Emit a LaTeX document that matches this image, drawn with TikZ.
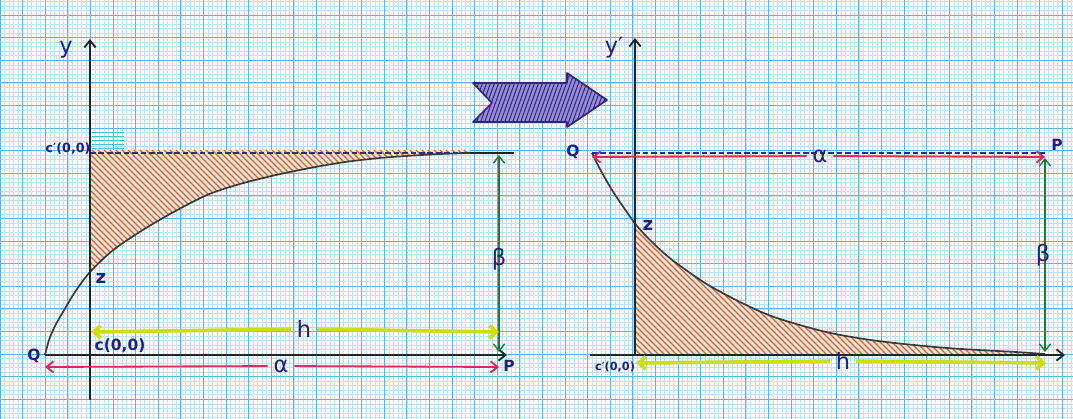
\documentclass[tikz,border=0pt]{standalone}
\usepackage{fontspec}
\setmainfont{DejaVu Sans}
\usetikzlibrary{arrows.meta}
\definecolor{paper}{RGB}{250,252,255}
\definecolor{gridminor}{RGB}{192,226,244}
\definecolor{gridmajor}{RGB}{100,178,224}
\definecolor{ink}{RGB}{32,32,125}
\definecolor{axisc}{RGB}{35,35,35}
\definecolor{redc}{RGB}{212,45,95}
\definecolor{yellc}{RGB}{205,222,25}
\definecolor{greenc}{RGB}{30,125,60}
\definecolor{hatchc}{RGB}{205,100,60}
\definecolor{hatchbg}{RGB}{246,228,214}
\definecolor{dashc}{RGB}{35,45,150}
\definecolor{purpfill}{RGB}{150,140,215}
\definecolor{purpink}{RGB}{50,35,125}
\definecolor{cyanc}{RGB}{60,200,215}
\begin{document}
\begin{tikzpicture}[x=0.025cm,y=-0.025cm,
  lbl/.style={text=ink,inner sep=1pt},
  fA/.style={font=\fontsize{16}{18}\selectfont},
  fB/.style={font=\bfseries\fontsize{13}{15}\selectfont},
  fC/.style={font=\bfseries\fontsize{11}{13}\selectfont},
  fD/.style={font=\bfseries\fontsize{9}{11}\selectfont},
  fE/.style={font=\bfseries\fontsize{8}{10}\selectfont},
  axisline/.style={draw=axisc,line width=1.3pt},
  axisarrow/.style={axisline,-{Straight Barb[length=5pt,width=8pt]}},
  curveline/.style={draw=axisc!90,line width=1.2pt},
  dashline/.style={draw=dashc,line width=0.8pt,dash pattern=on 4pt off 2pt},
  redarrow/.style={draw=redc,line width=1.3pt,-{Straight Barb[length=5pt,width=8pt]}},
  yellarrow/.style={draw=yellc,line width=2.6pt,-{Straight Barb[length=5pt,width=9pt]}},
  greenarrow/.style={draw=greenc,line width=1pt,{Straight Barb[length=5pt,width=8pt]}-{Straight Barb[length=5pt,width=8pt]}},
  hatchline/.style={draw=hatchc,line width=0.8pt},
  gapnode/.style={lbl,inner sep=4pt}
]
\useasboundingbox (0,0) rectangle (1073,419);
% paper
\fill[paper] (0,0) rectangle (1073,419);
\foreach \k in {0,...,237} \draw[gridminor,line width=0.3pt] ({\k*4.52},0) -- ({\k*4.52},419);
\foreach \k in {-3,...,89} \draw[gridminor,line width=0.3pt] (0,{15+\k*4.52}) -- (1073,{15+\k*4.52});
\foreach \k in {0,...,47} \draw[gridmajor,line width=0.6pt] ({\k*22.6},0) -- ({\k*22.6},419);
\foreach \k in {0,...,17} \draw[gridmajor,line width=0.6pt] (0,{15+\k*22.6}) -- (1073,{15+\k*22.6});

% ================= LEFT PANEL =================
\coordinate (LO) at (90,355);
\coordinate (LyB) at (90,400);
\coordinate (LyT) at (90,39);
\coordinate (LQ) at (45,355);
\coordinate (LxE) at (507,355);
\coordinate (LCp) at (90,153);
\coordinate (LdE) at (462,153);
\coordinate (LTE) at (514,153);
\coordinate (LbT) at (499,155);
\coordinate (LbB) at (499,352);
\coordinate (LhL) at (91,332);
\coordinate (LhR) at (499,332);
\coordinate (LaL) at (45,367);
\coordinate (LaR) at (499,367);

% hatched region
\begin{scope}
  \clip (90,100) rectangle (520,400);
  \clip plot[smooth] coordinates {(45,355) (49,340) (55,326) (63,312) (75,292) (90,272) (112,251) (138,233) (170,214) (207,195) (240,184) (276,175) (310,168) (345,162) (380,158) (414,155.5) (440,154) (470,153)} -- (470,150) -- (45,150) -- cycle;
  \fill[hatchbg] (40,140) rectangle (520,360);
  \foreach \i in {0,...,86} \draw[hatchline] ({-40+\i*6},150) -- ++(130,130);
\end{scope}
% cyan marks
\foreach \yy in {132,136,140,144,148} \draw[cyanc,line width=0.6pt] (92,\yy) -- (124,\yy);

% top line
\draw[dashline] (LCp) -- (LdE);
\draw[axisline,line width=1.1pt] (LdE) -- (LTE);
% curve
\draw[curveline] plot[smooth] coordinates {(45,355) (49,340) (55,326) (63,312) (75,292) (90,272) (112,251) (138,233) (170,214) (207,195) (240,184) (276,175) (310,168) (345,162) (380,158) (414,155.5) (440,154) (470,153)};
% axes
\draw[axisarrow] (LyB) -- (LyT);
\draw[axisarrow] (LQ) -- (LxE);

% labels
\node[lbl,fA] (Ly) at (66,50) {y};
\node[lbl,fD] (LCpl) at (68,149) {c′(0,0)};
\node[lbl,fB] (Lzl) at (101,279) {z};
\node[lbl,fC] (Lcl) at (120,346) {c(0,0)};
\node[lbl,fC] (LQl) at (34,356) {Q};
\node[lbl,fC] (LPl) at (509,366) {P};

% dimension arrows
\draw[greenarrow] (LbT) -- (LbB);
\node[lbl,fA] (Lbeta) at (499,259) {β};
\node[gapnode,fA] (Lh) at (304,329) {h};
\draw[yellarrow] (Lh) -- (LhL);
\draw[yellarrow] (Lh) -- (LhR);
\node[gapnode,fA] (Lalpha) at (281,366) {α};
\draw[redarrow] (Lalpha) -- (LaL);
\draw[redarrow] (Lalpha) -- (LaR);

% ================= ARROW BETWEEN =================
\begin{scope}
  \clip (473,83) -- (567,83) -- (567,73) -- (607,100) -- (567,127) -- (567,122) -- (473,122) -- (492,103) -- cycle;
  \fill[purpfill] (460,60) rectangle (620,140);
  \foreach \i in {0,...,45} \draw[purpink,line width=0.7pt] ({440+\i*4},135) -- ++(25,-70);
\end{scope}
\draw[purpink,line width=1.2pt,line join=round] (473,83) coordinate (BA1) -- (567,83) coordinate (BA2) -- (567,73) coordinate (BA3) -- (607,100) coordinate (BA4) -- (567,127) coordinate (BA5) -- (567,122) coordinate (BA6) -- (473,122) coordinate (BA7) -- (492,103) coordinate (BA8) -- cycle;

% ================= RIGHT PANEL =================
\coordinate (RO) at (635,355);
\coordinate (RyT) at (635,38);
\coordinate (RxS) at (590,355);
\coordinate (RxE) at (1065,355);
\coordinate (RQ) at (592,153);
\coordinate (RP) at (1045,153);
\coordinate (RaL) at (592,157);
\coordinate (RaR) at (1045,157);
\coordinate (RbT) at (1045,158);
\coordinate (RbB) at (1045,352);
\coordinate (RhL) at (636,363);
\coordinate (RhR) at (1046,363);

\begin{scope}
  \clip (635,150) rectangle (1060,356);
  \clip plot[smooth] coordinates {(592,153) (601,171) (612,190) (624,208) (637,226) (652,242) (671,259) (705,283) (740,302) (774,317) (826,332) (878,341) (947,348) (1016,352) (1045,354)} -- (1045,356) -- (590,356) -- cycle;
  \fill[hatchbg] (630,150) rectangle (1060,360);
  \foreach \i in {0,...,92} \draw[hatchline] ({500+\i*6},220) -- ++(140,140);
\end{scope}

\draw[dashline] (RQ) -- (RP);
\draw[curveline] plot[smooth] coordinates {(592,153) (601,171) (612,190) (624,208) (637,226) (652,242) (671,259) (705,283) (740,302) (774,317) (826,332) (878,341) (947,348) (1016,352) (1045,354)};
\draw[axisarrow] (RO) -- (RyT);
\draw[axisarrow] (RxS) -- (RxE);

\node[lbl,fA] (Ry) at (614,48) {y′};
\node[lbl,fC] (RQl) at (573,152) {Q};
\node[lbl,fC] (RPl) at (1057,145) {P};
\node[lbl,fB] (Rzl) at (648,226) {z};
\node[lbl,fE] (RCpl) at (615,367) {c′(0,0)};

\node[gapnode,fA] (Ralpha) at (820,156) {α};
\draw[redarrow] (Ralpha) -- (RaL);
\draw[redarrow] (Ralpha) -- (RaR);
\draw[greenarrow] (RbT) -- (RbB);
\node[lbl,fA] (Rbeta) at (1043,255) {β};
\node[gapnode,fA] (Rh) at (843,361) {h};
\draw[yellarrow] (Rh) -- (RhL);
\draw[yellarrow] (Rh) -- (RhR);
\end{tikzpicture}
\end{document}
